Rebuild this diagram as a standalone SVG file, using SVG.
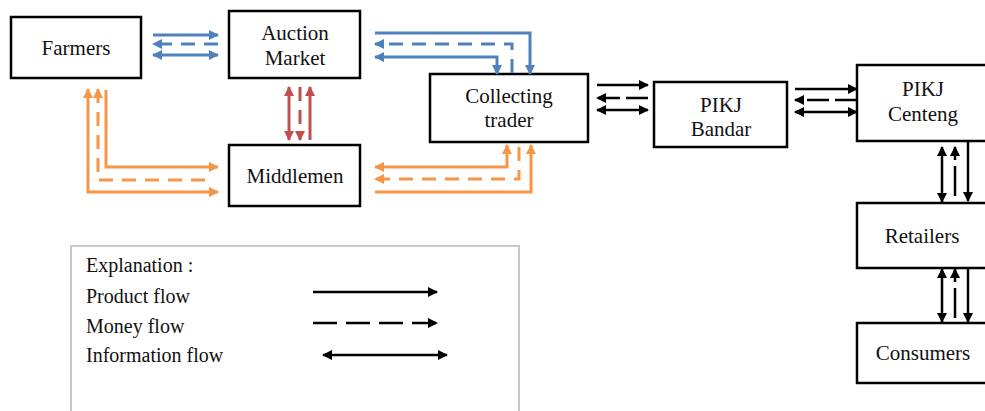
<svg xmlns="http://www.w3.org/2000/svg" width="985" height="411" viewBox="0 0 985 411">
<defs>
<style>
.box{fill:#fff;stroke:#000;stroke-width:2.5}
.t{font-family:'Liberation Serif','Times New Roman','DejaVu Serif',serif;font-size:21px;fill:#111;text-anchor:middle}
.lt{font-family:'Liberation Serif','Times New Roman','DejaVu Serif',serif;font-size:20px;fill:#111}
.b{fill:none;stroke:#4f81bd;stroke-width:3}
.r{fill:none;stroke:#c0504d;stroke-width:3}
.o{fill:none;stroke:#f79646;stroke-width:3}
.k{fill:none;stroke:#000;stroke-width:2.5}
.cd{stroke-dasharray:14 9}
.kd{stroke-dasharray:22 6}
</style>
<marker id="ab" viewBox="0 0 10 10" refX="9" refY="5" markerWidth="11" markerHeight="10" markerUnits="userSpaceOnUse" orient="auto-start-reverse"><path d="M0,0 L10,5 L0,10 z" fill="#4f81bd"/></marker>
<marker id="ar" viewBox="0 0 10 10" refX="9" refY="5" markerWidth="11" markerHeight="10" markerUnits="userSpaceOnUse" orient="auto-start-reverse"><path d="M0,0 L10,5 L0,10 z" fill="#c0504d"/></marker>
<marker id="ao" viewBox="0 0 10 10" refX="9" refY="5" markerWidth="11" markerHeight="10" markerUnits="userSpaceOnUse" orient="auto-start-reverse"><path d="M0,0 L10,5 L0,10 z" fill="#f79646"/></marker>
<marker id="ak" viewBox="0 0 10 10" refX="9" refY="5" markerWidth="11" markerHeight="10" markerUnits="userSpaceOnUse" orient="auto-start-reverse"><path d="M0,0 L10,5 L0,10 z" fill="#000"/></marker>
</defs>
<rect width="985" height="411" fill="#fff"/>

<g id="farmers"><rect class="box" x="11" y="17" width="130" height="61"/><text class="t" x="76" y="55">Farmers</text></g>
<g id="auction"><rect class="box" x="229" y="11" width="131" height="67"/><text class="t" x="295" y="40">Auction</text><text class="t" x="295" y="65">Market</text></g>
<g id="middlemen"><rect class="box" x="229" y="145" width="131" height="61"/><text class="t" x="295" y="183">Middlemen</text></g>
<g id="collecting"><rect class="box" x="430" y="74" width="158" height="68"/><text class="t" x="509" y="103">Collecting</text><text class="t" x="509" y="127">trader</text></g>
<g id="bandar"><rect class="box" x="654" y="82" width="133" height="65"/><text class="t" x="721" y="112">PIKJ</text><text class="t" x="721" y="136">Bandar</text></g>
<g id="centeng"><rect class="box" x="857" y="65" width="140" height="76"/><text class="t" x="923" y="96">PIKJ</text><text class="t" x="923" y="121">Centeng</text></g>
<g id="retailers"><rect class="box" x="857" y="203" width="140" height="65"/><text class="t" x="922" y="243">Retailers</text></g>
<g id="consumers"><rect class="box" x="857" y="323" width="140" height="60"/><text class="t" x="923" y="360">Consumers</text></g>

<g id="legend">
<rect x="71" y="246" width="448" height="180" fill="none" stroke="#c8c8c8" stroke-width="2"/>
<text class="lt" x="86" y="272">Explanation :</text>
<text class="lt" x="86" y="303">Product flow</text>
<text class="lt" x="86" y="333">Money flow</text>
<text class="lt" x="86" y="362">Information flow</text>
<path class="k" d="M313,292 H437" marker-end="url(#ak)"/>
<path class="k" d="M313,323 H437" stroke-dasharray="24 9" marker-end="url(#ak)"/>
<path class="k" d="M323,355 H447" marker-start="url(#ak)" marker-end="url(#ak)"/>
</g>

<g id="connectors">
<path class="b" d="M153,35 H218" marker-end="url(#ab)"/>
<path class="b cd" d="M218,44 H153" marker-end="url(#ab)"/>
<path class="b" d="M153,55 H218" marker-start="url(#ab)" marker-end="url(#ab)"/>
<path class="b" d="M375,33 H530 V74" marker-end="url(#ab)"/>
<path class="b cd" d="M512,73 V44 H375" marker-end="url(#ab)"/>
<path class="b" d="M375,57 H497 V74" marker-start="url(#ab)" marker-end="url(#ab)"/>

<path class="r" d="M289,87 V140" marker-start="url(#ar)" marker-end="url(#ar)"/>
<path class="r cd" d="M300,87 V140" marker-end="url(#ar)"/>
<path class="r" d="M310,140 V87" marker-end="url(#ar)"/>

<path class="o" d="M88,89 V192 H218" marker-start="url(#ao)" marker-end="url(#ao)"/>
<path class="o cd" d="M98,89 V180 H205" marker-start="url(#ao)"/>
<path class="o" d="M106,90 V167 H218" marker-end="url(#ao)"/>
<path class="o" d="M375,167 H507 V145" marker-start="url(#ao)" marker-end="url(#ao)"/>
<path class="o cd" d="M519,147 V179 H375" marker-end="url(#ao)"/>
<path class="o" d="M375,192 H531 V145" marker-end="url(#ao)"/>

<path class="k" d="M597,85 H648" marker-end="url(#ak)"/>
<path class="k kd" d="M648,98 H597" marker-end="url(#ak)"/>
<path class="k" d="M597,110 H648" marker-start="url(#ak)" marker-end="url(#ak)"/>
<path class="k" d="M795,89 H857" marker-end="url(#ak)"/>
<path class="k kd" d="M857,100 H795" marker-end="url(#ak)"/>
<path class="k" d="M795,112 H857" marker-start="url(#ak)" marker-end="url(#ak)"/>

<path class="k" d="M942,147 V202" marker-start="url(#ak)" marker-end="url(#ak)"/>
<path class="k" d="M955,196 V147" stroke-dasharray="30 6" marker-end="url(#ak)"/>
<path class="k" d="M968,142 V201" marker-end="url(#ak)"/>
<path class="k" d="M942,269 V322" marker-start="url(#ak)" marker-end="url(#ak)"/>
<path class="k" d="M955,318 V269" stroke-dasharray="30 6" marker-end="url(#ak)"/>
<path class="k" d="M968,269 V322" marker-end="url(#ak)"/>
</g>
</svg>
